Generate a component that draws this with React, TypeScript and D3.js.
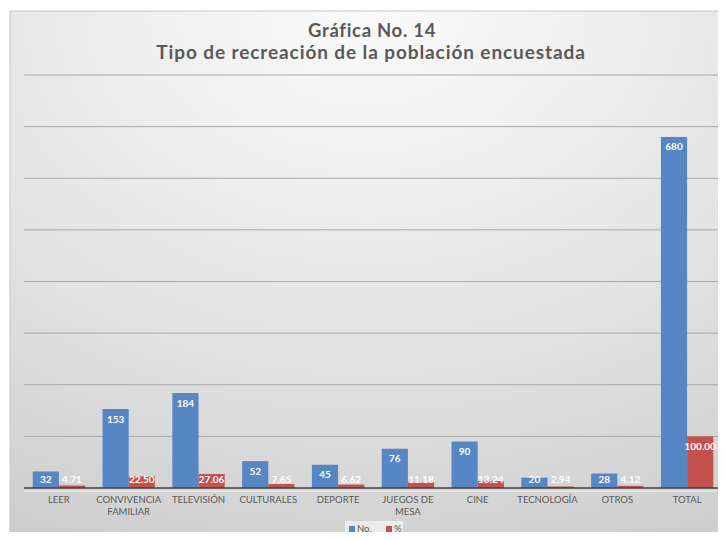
import React from "react";
import * as d3 from "d3";

const categories = ["LEER", "CONVIVENCIA FAMILIAR", "TELEVISIÓN", "CULTURALES", "DEPORTE", "JUEGOS DE MESA", "CINE", "TECNOLOGÍA", "OTROS", "TOTAL"];
const categoryLines = [["LEER"], ["CONVIVENCIA", "FAMILIAR"], ["TELEVISIÓN"], ["CULTURALES"], ["DEPORTE"], ["JUEGOS DE", "MESA"], ["CINE"], ["TECNOLOGÍA"], ["OTROS"], ["TOTAL"]];
const countValues = [32, 153, 184, 52, 45, 76, 90, 20, 28, 680];
const percentValues = [4.71, 22.5, 27.06, 7.65, 6.62, 11.18, 13.24, 2.94, 4.12, 100.0];
const seriesNames = ["No.", "%"];
const yTicks = [0, 100, 200, 300, 400, 500, 600, 700, 800];

const W = 726;
const H = 540;
const plot = { left: 24, right: 722, top: 75, bottom: 488 };
const BLUE = "#5686c4";
const RED = "#c4514e";
const FONT = "Lato, 'Open Sans', 'Liberation Sans', sans-serif";

export default function App() {
  const x = d3.scaleBand<string>().domain(categories).range([plot.left, plot.right]).paddingInner(0.25).paddingOuter(0.125);
  const y = d3.scaleLinear().domain([0, 800]).range([plot.bottom, plot.top]);
  const inner = d3.scaleBand<number>().domain([0, 1]).range([0, x.bandwidth()]);
  const series = [countValues, percentValues];
  const fmt = [(v: number) => d3.format("d")(v), (v: number) => d3.format(".2f")(v)];
  const colors = [BLUE, RED];

  return (
    <div style={{ margin: -8 }}>
      <svg width={W} height={H} style={{ display: "block" }}>
        <defs>
          <radialGradient id="bg" cx="50%" cy="0%" r="110%" fx="50%" fy="0%">
            <stop offset="0%" stopColor="#fbfbfb" />
            <stop offset="60%" stopColor="#e2e2e2" />
            <stop offset="100%" stopColor="#cdcdcd" />
          </radialGradient>
        </defs>
        <rect x={0} y={0} width={W} height={H} fill="#ffffff" />
        <rect x={10} y={11} width={W - 12} height={H - 11} fill="url(#bg)" stroke="#c8c8c8" strokeWidth={1} />
        <line x1={plot.left} x2={plot.right} y1={491} y2={491} stroke="#f2f2f2" strokeWidth={1} />
        {yTicks.slice(1).map((t) => (
          <line key={t} x1={plot.left} x2={plot.right} y1={y(t)} y2={y(t)} stroke="#a9a9a9" strokeWidth={1} />
        ))}
        <text x={372} y={37} textAnchor="middle" fontFamily={FONT} fontWeight="bold" fontSize={18.5} letterSpacing={0.7} fill="#595959">Gráfica No. 14</text>
        <text x={371} y={59} textAnchor="middle" fontFamily={FONT} fontWeight="bold" fontSize={19} letterSpacing={0.9} fill="#595959">Tipo de recreación de la población encuestada</text>
        {categories.map((c, i) => (
          <g key={c}>
            {series.map((s, k) => {
              const x0 = (x(c) as number) + (inner(k) as number);
              const top = y(s[i]);
              const cx = x0 + inner.bandwidth() / 2;
              const ly = Math.min(top + 10, plot.bottom - 9);
              return (
                <g key={k}>
                  <rect x={x0} y={top} width={inner.bandwidth()} height={plot.bottom - top} fill={colors[k]} />
                  <text x={cx} y={ly} dy="0.35em" textAnchor="middle" fontFamily={FONT} fontWeight="bold" fontSize={10} fill="#ffffff">{fmt[k](s[i])}</text>
                </g>
              );
            })}
            {categoryLines[i].map((ln, j) => (
              <text key={j} x={(x(c) as number) + x.bandwidth() / 2} y={503 + j * 12} textAnchor="middle" fontFamily={FONT} fontSize={9.5} fill="#595959">{ln}</text>
            ))}
          </g>
        ))}
        <line x1={plot.left} x2={plot.right} y1={plot.bottom} y2={plot.bottom} stroke="#404040" strokeWidth={1.5} />
        <rect x={345} y={521} width={58} height={17} fill="#ececec" />
        {seriesNames.map((n, k) => (
          <g key={n} transform={`translate(${k === 0 ? 349 : 386},529)`}>
            <rect x={0} y={-3} width={6} height={6} fill={colors[k]} />
            <text x={8} y={0} dy="0.35em" fontFamily={FONT} fontSize={9.5} fill="#595959">{n}</text>
          </g>
        ))}
      </svg>
    </div>
  );
}
